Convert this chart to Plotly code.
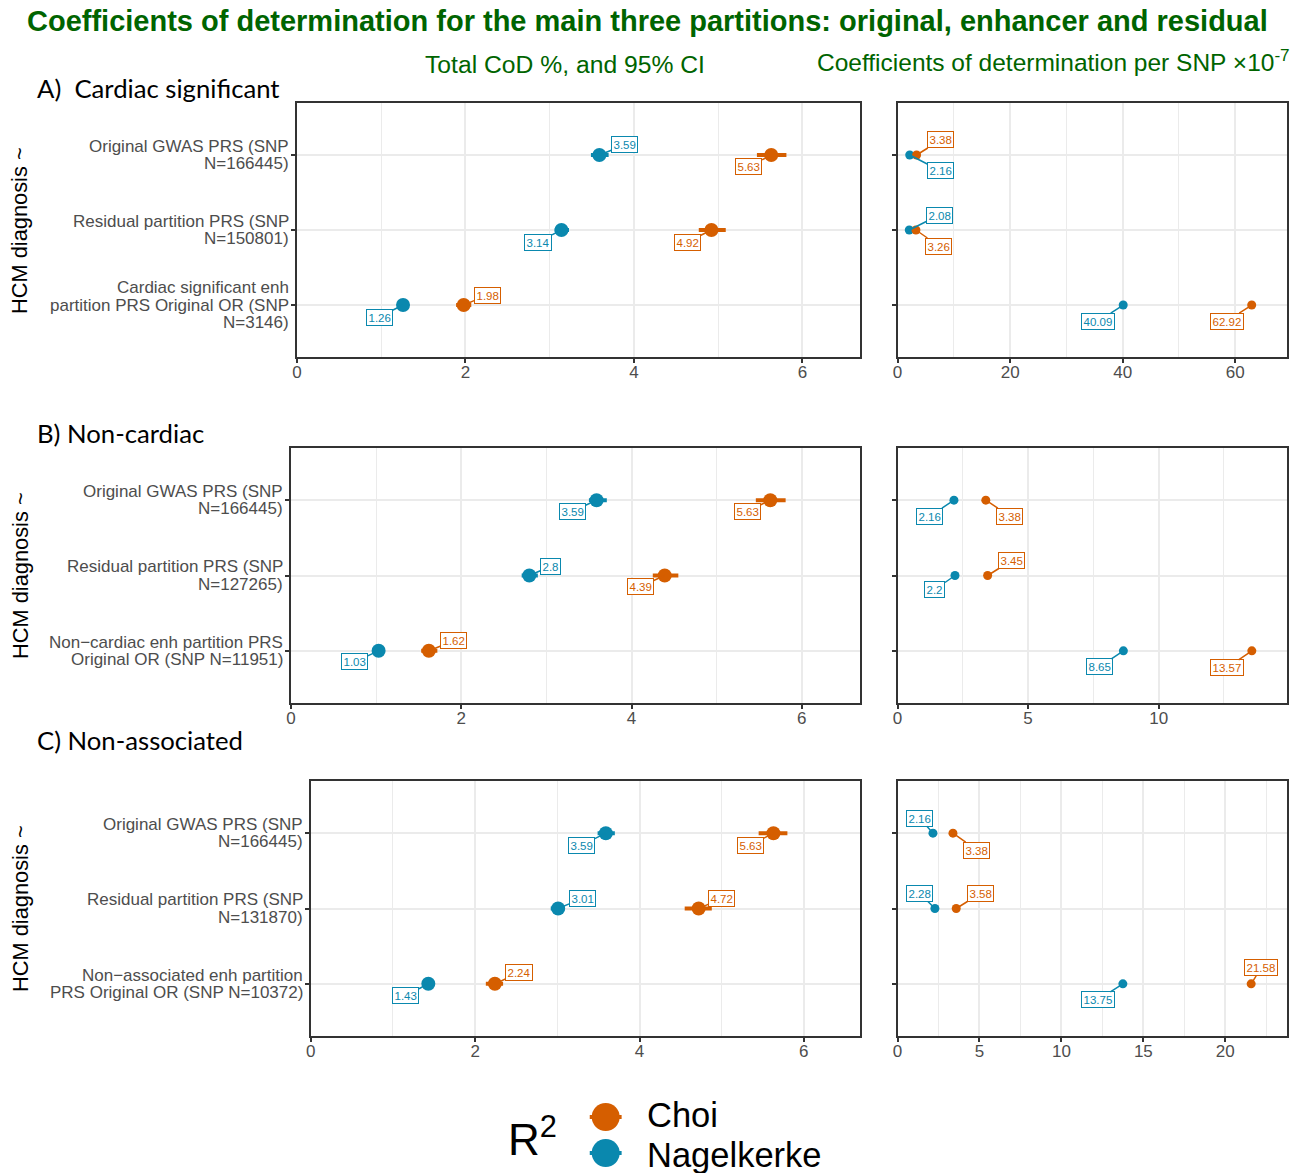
import plotly.graph_objects as go

W, H = 1304, 1173

CHOI_COLOR = "#D55E00"
NAGEL_COLOR = "#0A88AE"
TITLE_GREEN = "#006400"
TICK_GREY = "#4D4D4D"
GRID = "#EBEBEB"
FRAME = "#333333"

# ---------------- data ----------------
section_titles = ["A)\u00a0 Cardiac significant", "B) Non-cardiac", "C) Non-associated"]

# categories, top to bottom ("\n" marks the wrapped line)
cats_a = ["Original GWAS PRS (SNP\nN=166445)",
          "Residual partition PRS (SNP\nN=150801)",
          "Cardiac significant enh\npartition PRS Original OR (SNP\nN=3146)"]
cats_b = ["Original GWAS PRS (SNP\nN=166445)",
          "Residual partition PRS (SNP\nN=127265)",
          "Non\u2212cardiac enh partition PRS\nOriginal OR (SNP N=11951)"]
cats_c = ["Original GWAS PRS (SNP\nN=166445)",
          "Residual partition PRS (SNP\nN=131870)",
          "Non\u2212associated enh partition\nPRS Original OR (SNP N=10372)"]

# total coefficient of determination (%) with 95% CI
choi_a = [5.63, 4.92, 1.98]
choi_a_lo = [5.46, 4.77, 1.89]
choi_a_hi = [5.81, 5.09, 2.07]
nagel_a = [3.59, 3.14, 1.26]
nagel_a_lo = [3.49, 3.06, 1.22]
nagel_a_hi = [3.70, 3.23, 1.30]

choi_b = [5.63, 4.39, 1.62]
choi_b_lo = [5.46, 4.25, 1.53]
choi_b_hi = [5.81, 4.55, 1.72]
nagel_b = [3.59, 2.80, 1.03]
nagel_b_lo = [3.50, 2.71, 0.99]
nagel_b_hi = [3.71, 2.90, 1.07]

choi_c = [5.63, 4.72, 2.24]
choi_c_lo = [5.45, 4.55, 2.13]
choi_c_hi = [5.80, 4.88, 2.34]
nagel_c = [3.59, 3.01, 1.43]
nagel_c_lo = [3.49, 2.92, 1.39]
nagel_c_hi = [3.70, 3.09, 1.47]

# coefficient of determination per SNP (x 1e-7)
choi_snp_a = [3.38, 3.26, 62.92]
nagel_snp_a = [2.16, 2.08, 40.09]
choi_snp_b = [3.38, 3.45, 13.57]
nagel_snp_b = [2.16, 2.20, 8.65]
choi_snp_c = [3.38, 3.58, 21.58]
nagel_snp_c = [2.16, 2.28, 13.75]

# ---------------- layout helpers ----------------
def px_x(p):
    return p / W

def px_y(p):
    return 1 - p / H

# panel geometry in pixels
panel_geom = [
    dict(lx0=293, rx0=896, x1=858, rx1=1287, top=103, bottom=357, ytitle=230, head=88),
    dict(lx0=287, rx0=896, x1=858, rx1=1287, top=448, bottom=703, ytitle=575, head=433),
    dict(lx0=307, rx0=896, x1=858, rx1=1287, top=781, bottom=1036, ytitle=908, head=740),
]
right_axes = [
    dict(range=[0, 69.2], dtick=20, minor=10),
    dict(range=[0, 14.92], dtick=5, minor=2.5),
    dict(range=[0, 23.77], dtick=5, minor=2.5),
]

# repelled label offsets (pixels, +y downwards) per panel
label_offsets = [
    dict(lc=[(-23, 12), (-24, 12), (24, -10)], ln=[(25, -10), (-23, 12), (-24, 12)],
         rc=[(24, -15), (23, 16), (-25, 16)], rn=[(31, 16), (30, -15), (-25, 16)]),
    dict(lc=[(-23, 11), (-24, 11), (25, -10)], ln=[(-24, 11), (21, -9), (-24, 11)],
         rc=[(24, 16), (24, -15), (-25, 17)], rn=[(-24, 16), (-20, 14), (-24, 16)]),
    dict(lc=[(-23, 12), (23, -10), (24, -11)], ln=[(-24, 12), (24, -10), (-23, 12)],
         rc=[(24, 17), (24, -15), (10, -16)], rn=[(-13, -15), (-15, -15), (-25, 16)]),
]

sections = [
    dict(cats=cats_a, choi=choi_a, choi_lo=choi_a_lo, choi_hi=choi_a_hi,
         nagel=nagel_a, nagel_lo=nagel_a_lo, nagel_hi=nagel_a_hi,
         choi_snp=choi_snp_a, nagel_snp=nagel_snp_a),
    dict(cats=cats_b, choi=choi_b, choi_lo=choi_b_lo, choi_hi=choi_b_hi,
         nagel=nagel_b, nagel_lo=nagel_b_lo, nagel_hi=nagel_b_hi,
         choi_snp=choi_snp_b, nagel_snp=nagel_snp_b),
    dict(cats=cats_c, choi=choi_c, choi_lo=choi_c_lo, choi_hi=choi_c_hi,
         nagel=nagel_c, nagel_lo=nagel_c_lo, nagel_hi=nagel_c_hi,
         choi_snp=choi_snp_c, nagel_snp=nagel_snp_c),
]

fig = go.Figure()
annotations = []
layout_axes = {}


def axis_name(kind, n):
    return f"{kind}axis" if n == 1 else f"{kind}axis{n}"


def ref(kind, n):
    return kind if n == 1 else f"{kind}{n}"


def box_label(xr, yr, x, y, off, color):
    annotations.append(dict(
        x=x, y=y, xref=xr, yref=yr, text=f"{x:g}", showarrow=True,
        ax=off[0], ay=off[1], arrowhead=0, arrowwidth=1.5, arrowcolor=color,
        standoff=0, bgcolor="white", bordercolor=color, borderwidth=1, borderpad=1.5,
        font=dict(size=11.5, color=color, family="Liberation Sans")))


for i, (sec, g, ra, offs) in enumerate(zip(sections, panel_geom, right_axes, label_offsets)):
    nl, nr = 2 * i + 1, 2 * i + 2
    cats = [c.replace("\n", " ") for c in sec["cats"]]
    ydom = [px_y(g["bottom"]), px_y(g["top"])]
    cat_axis = dict(domain=ydom, type="category", categoryorder="array",
                    categoryarray=cats[::-1], range=[-0.693, 2.693],
                    showgrid=True, gridcolor=GRID, gridwidth=2,
                    showline=True, mirror=True, linecolor=FRAME, linewidth=1.5,
                    ticks="outside", ticklen=4, tickcolor=FRAME, tickwidth=1.5,
                    showticklabels=False, zeroline=False, fixedrange=True)
    layout_axes[axis_name("y", nl)] = dict(cat_axis, anchor=ref("x", nl))
    layout_axes[axis_name("y", nr)] = dict(cat_axis, anchor=ref("x", nr))
    x_common = dict(showgrid=True, gridcolor=GRID, gridwidth=2, zeroline=False,
                    showline=True, mirror=True, linecolor=FRAME, linewidth=1.5,
                    ticks="outside", ticklen=4, tickcolor=FRAME, tickwidth=1.5,
                    ticklabelstandoff=-5,
                    tickfont=dict(size=17, color=TICK_GREY))
    layout_axes[axis_name("x", nl)] = dict(
        x_common, domain=[px_x(g["lx0"]), px_x(g["x1"])], anchor=ref("y", nl),
        range=[0, 6.68], tick0=0, dtick=2,
        minor=dict(dtick=1, tick0=0, showgrid=True, gridcolor=GRID, gridwidth=1))
    layout_axes[axis_name("x", nr)] = dict(
        x_common, domain=[px_x(g["rx0"]), px_x(g["rx1"])], anchor=ref("y", nr),
        range=ra["range"], tick0=0, dtick=ra["dtick"],
        minor=dict(dtick=ra["minor"], tick0=0, showgrid=True, gridcolor=GRID, gridwidth=1))

    # left: total CoD with CI; right: per-SNP CoD
    for name, key, color in [("Nagelkerke", "nagel", NAGEL_COLOR), ("Choi", "choi", CHOI_COLOR)]:
        v, lo, hi = sec[key], sec[key + "_lo"], sec[key + "_hi"]
        fig.add_trace(go.Scatter(
            x=v, y=cats, mode="markers", name=name, showlegend=False,
            xaxis=ref("x", nl), yaxis=ref("y", nl),
            marker=dict(size=14, color=color),
            error_x=dict(type="data", symmetric=False,
                         array=[h - a for h, a in zip(hi, v)],
                         arrayminus=[a - l for a, l in zip(v, lo)],
                         thickness=4, width=0, color=color)))
        fig.add_trace(go.Scatter(
            x=sec[key + "_snp"], y=cats, mode="markers", name=name, showlegend=False,
            xaxis=ref("x", nr), yaxis=ref("y", nr),
            marker=dict(size=9, color=color)))

    for j, c in enumerate(cats):
        box_label(ref("x", nl), ref("y", nl), sec["choi"][j], c, offs["lc"][j], CHOI_COLOR)
        box_label(ref("x", nl), ref("y", nl), sec["nagel"][j], c, offs["ln"][j], NAGEL_COLOR)
        box_label(ref("x", nr), ref("y", nr), sec["choi_snp"][j], c, offs["rc"][j], CHOI_COLOR)
        box_label(ref("x", nr), ref("y", nr), sec["nagel_snp"][j], c, offs["rn"][j], NAGEL_COLOR)

    # wrapped category labels, one line per annotation for tight leading
    for c_full, c in zip(sec["cats"], cats):
        lines = c_full.split("\n")
        n = len(lines)
        for k, line in enumerate(lines):
            annotations.append(dict(
                x=0, xref=f"{ref('x', nl)} domain", y=c, yref=ref("y", nl),
                text=line, showarrow=False, xanchor="right", yanchor="middle",
                xshift=-6, yshift=((n - 1) / 2 - k) * 17.4,
                font=dict(size=17, color=TICK_GREY)))

    # y-axis title and section heading
    annotations.append(dict(
        x=px_x(15), y=px_y(g["ytitle"]), xref="paper", yref="paper",
        text="HCM diagnosis ~", textangle=-90, showarrow=False,
        xanchor="center", yanchor="middle", font=dict(size=21.8, color="black")))
    annotations.append(dict(
        x=px_x(30), y=px_y(g["head"]), xref="paper", yref="paper",
        text=section_titles[i], showarrow=False, xanchor="left", yanchor="middle",
        font=dict(size=25.7, color="black", family="Lato")))

# titles
annotations.append(dict(
    x=px_x(645), y=px_y(21), xref="paper", yref="paper",
    text="<b>Coefficients of determination for the main three partitions: original, enhancer and residual</b>",
    showarrow=False, xanchor="center", yanchor="middle",
    font=dict(size=29, color=TITLE_GREEN)))
annotations.append(dict(
    x=px_x(562), y=px_y(64), xref="paper", yref="paper",
    text="Total CoD %, and 95% CI", showarrow=False, xanchor="center", yanchor="middle",
    font=dict(size=24.7, color=TITLE_GREEN)))
annotations.append(dict(
    x=px_x(813), y=px_y(61), xref="paper", yref="paper",
    text="Coefficients of determination per SNP \u00d710<sup>-7</sup>", showarrow=False,
    xanchor="left", yanchor="middle", font=dict(size=24.5, color=TITLE_GREEN)))

# legend
shapes = []
legend_items = [("Choi", CHOI_COLOR, 1117, 1115), ("Nagelkerke", NAGEL_COLOR, 1153, 1155)]
for name, color, yc, yt in legend_items:
    shapes.append(dict(type="line", xref="paper", yref="paper",
                       x0=px_x(587), x1=px_x(619), y0=px_y(yc), y1=px_y(yc),
                       line=dict(color=color, width=4)))
    shapes.append(dict(type="circle", xref="paper", yref="paper",
                       x0=px_x(603 - 14), x1=px_x(603 + 14),
                       y0=px_y(yc + 14), y1=px_y(yc - 14),
                       fillcolor=color, line=dict(width=0)))
    annotations.append(dict(
        x=px_x(642), y=px_y(yt), xref="paper", yref="paper", text=name,
        showarrow=False, xanchor="left", yanchor="middle",
        font=dict(size=34.5, color="black")))
annotations.append(dict(
    x=px_x(503), y=px_y(1136), xref="paper", yref="paper", text="R<sup>2</sup>",
    showarrow=False, xanchor="left", yanchor="middle",
    font=dict(size=44, color="black")))

fig.update_layout(
    width=W, height=H, margin=dict(l=0, r=0, t=0, b=0),
    paper_bgcolor="white", plot_bgcolor="white",
    font=dict(family="Liberation Sans", color="black"),
    showlegend=False, annotations=annotations, shapes=shapes,
    **layout_axes)

fig.write_html("out.html")
